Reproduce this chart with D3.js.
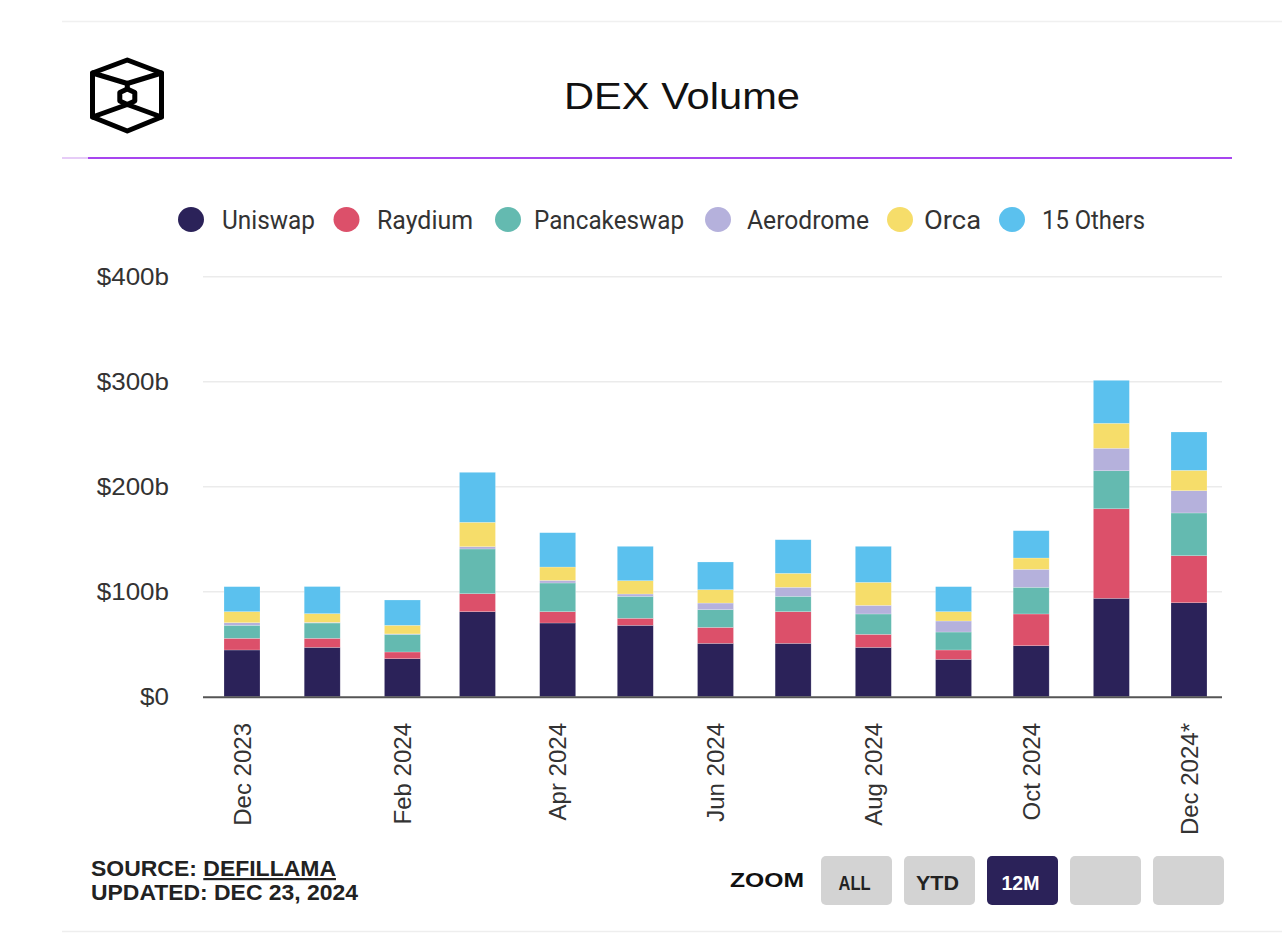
<!DOCTYPE html>
<html><head><meta charset="utf-8">
<script src="https://cdn.jsdelivr.net/npm/d3@7"></script>
<style>
html,body{margin:0;padding:0;background:#fff;}
svg{display:block;}
</style></head>
<body>
<svg id="chart" width="1282" height="948"></svg>
<script>
// ---- data ----
const months = ["2023-12","2024-01","2024-02","2024-03","2024-04","2024-05","2024-06","2024-07","2024-08","2024-09","2024-10","2024-11","2024-12"];
const seriesNames = ["Uniswap","Raydium","Pancakeswap","Aerodrome","Orca","15 Others"];
const uniswap     = [44.5, 47.0, 36.2, 81.0, 70.2, 68.0, 50.8, 50.8, 47.0, 35.6, 48.6, 93.7, 89.5];
const raydium     = [11.1,  8.6,  6.4, 17.1, 10.8,  6.7, 15.2, 30.2, 12.4,  8.9, 30.2, 85.3, 44.8];
const pancakeswap = [12.4, 14.6, 16.8, 42.6, 27.3, 20.9, 16.9, 14.6, 19.4, 17.1, 25.4, 36.2, 40.7];
const aerodrome   = [ 2.5,  0.6,  0.4,  2.2,  2.5,  2.2,  6.3,  8.6,  8.2, 10.5, 17.1, 21.4, 21.2];
const orca        = [10.5,  8.3,  8.2, 23.2, 12.7, 12.7, 12.7, 13.3, 21.9,  8.9, 10.8, 23.8, 19.4];
const others      = [23.8, 25.8, 24.1, 47.6, 32.7, 32.7, 26.4, 32.0, 34.3, 23.8, 26.0, 40.9, 36.5];
const yTicks = [0, 100, 200, 300, 400];
const yTickLabels = ["$0","$100b","$200b","$300b","$400b"];
const xTickMonths = ["2023-12","2024-02","2024-04","2024-06","2024-08","2024-10","2024-12"];
const xTickLabels = ["Dec 2023","Feb 2024","Apr 2024","Jun 2024","Aug 2024","Oct 2024","Dec 2024*"];
const colors = ["#2b2259","#dc506a","#64bab0","#b5b1dc","#f6dd6a","#5bc1ee"];
const zoomButtons = ["ALL","YTD","12M","",""];

// ---- build ----
const parse = d3.timeParse("%Y-%m");
const seriesArrays = [uniswap, raydium, pancakeswap, aerodrome, orca, others];
const rows = months.map((m,i)=>{
  const r = {date: parse(m)};
  seriesNames.forEach((s,j)=> r[s] = seriesArrays[j][i]);
  return r;
});
const stack = d3.stack().keys(seriesNames)(rows);

const svg = d3.select("#chart");
const plotL = 203, plotR = 1222;
const x = d3.scaleTime().domain([parse("2023-12"), parse("2024-12")]).range([242, 1189]);
const y = d3.scaleLinear().domain([0, 400]).range([696.7, 276.7]);
const barW = 36;
const arial = "'Liberation Sans', Arial, Helvetica, sans-serif";

function stretch(sel, k){ sel.each(function(){ const w=this.getComputedTextLength(); d3.select(this).attr("textLength", w*k).attr("lengthAdjust","spacingAndGlyphs"); }); }
function fit(sel, w){ sel.attr("textLength", w).attr("lengthAdjust","spacingAndGlyphs"); }

// top and bottom rules
svg.append("line").attr("x1",62).attr("x2",1282).attr("y1",21.5).attr("y2",21.5).attr("stroke","#f0f0f0").attr("stroke-width",1.5);
svg.append("line").attr("x1",62).attr("x2",1282).attr("y1",931.5).attr("y2",931.5).attr("stroke","#eeeeee").attr("stroke-width",1.5);

// logo
const logo = svg.append("g").attr("fill","none").attr("stroke","#000").attr("stroke-width",5).attr("stroke-linejoin","round").attr("stroke-linecap","round");
logo.append("path").attr("d","M127.3,60 L161.5,73 L161.5,117 L127.3,131 L92.5,117 L92.5,73 Z");
logo.append("path").attr("d","M92.5,73 L127.3,83.5 L161.5,73 M127.3,83.5 L127.3,89");
logo.append("path").attr("d","M127.3,89 L134.8,92.5 L134.8,101 L127.3,104.5 L119.8,101 L119.8,92.5 Z");
logo.append("path").attr("d","M92.5,117 L127.3,104.5 L161.5,117");

// title
fit(svg.append("text").attr("x",564).attr("y",109)
  .attr("font-family",arial).attr("font-size",36).attr("fill","#111").text("DEX Volume"), 236);

// purple rule
svg.append("line").attr("x1",62).attr("x2",88).attr("y1",158).attr("y2",158).attr("stroke","#e6ccf7").attr("stroke-width",2);
svg.append("line").attr("x1",88).attr("x2",1232).attr("y1",158).attr("y2",158).attr("stroke","#a745ef").attr("stroke-width",2.2);

// legend
const legendCx = [191, 346.5, 508, 718, 900, 1012];
const legendTx = [222, 377, 534, 747, 924, 1042];
const legendTw = [93, 96, 150, 122, 57, 103];
const lg = svg.append("g");
seriesNames.forEach((s,i)=>{
  lg.append("ellipse").attr("cx",legendCx[i]).attr("cy",219.5).attr("rx",13).attr("ry",12.5).attr("fill",colors[i]);
  fit(lg.append("text").attr("x",legendTx[i]).attr("y",228.5).attr("font-family","Roboto, sans-serif")
    .attr("font-size",25).attr("fill","#333").text(s), legendTw[i]);
});

// gridlines
svg.append("g").selectAll("line").data(yTicks.slice(1)).join("line")
  .attr("x1",plotL).attr("x2",plotR).attr("y1",d=>y(d)).attr("y2",d=>y(d))
  .attr("stroke","#ebebeb").attr("stroke-width",1.5);

// y labels
const yl = svg.append("g").selectAll("text").data(yTicks).join("text")
  .attr("x",169).attr("y",d=>y(d)+8.5).attr("text-anchor","end")
  .attr("font-family",arial).attr("font-size",24.5).attr("fill","#333")
  .text((d,i)=>yTickLabels[i]);
stretch(yl, 1.06);

// bars
svg.append("g").selectAll("g").data(stack).join("g").attr("fill",(d,i)=>colors[i])
  .selectAll("rect").data(d=>d).join("rect")
  .attr("x",d=>x(d.data.date)-barW/2).attr("width",barW)
  .attr("y",d=>y(d[1])).attr("height",d=>Math.max(0,y(d[0])-y(d[1])))
  .attr("stroke","rgba(255,255,255,0.35)").attr("stroke-width",0.6);

// baseline
svg.append("line").attr("x1",plotL).attr("x2",plotR).attr("y1",y(0)+0.5).attr("y2",y(0)+0.5).attr("stroke","#555").attr("stroke-width",2);

// x labels
svg.append("g").selectAll("text").data(xTickMonths).join("text")
  .attr("transform",d=>`translate(${x(parse(d))+8.5},723) rotate(-90)`)
  .attr("text-anchor","end")
  .attr("font-family",arial).attr("font-size",24).attr("fill","#333")
  .text((d,i)=>xTickLabels[i]);

// footer
const src = svg.append("text").attr("x",91).attr("y",876).attr("font-family",arial).attr("font-weight","bold").attr("font-size",22).attr("fill","#222");
src.append("tspan").text("SOURCE: ");
src.append("tspan").attr("text-decoration","underline").text("DEFILLAMA");
fit(src, 245);
fit(svg.append("text").attr("x",91).attr("y",900).attr("font-family",arial).attr("font-weight","bold").attr("font-size",22).attr("fill","#222").text("UPDATED: DEC 23, 2024"), 267);
fit(svg.append("text").attr("x",730).attr("y",887).attr("font-family",arial).attr("font-weight","bold").attr("font-size",21).attr("fill","#111").text("ZOOM"), 74);
const bx = [821, 904, 987, 1070, 1153];
const bw = [32, 43, 38, 0, 0];
zoomButtons.forEach((b,i)=>{
  const sel = b==="12M";
  svg.append("rect").attr("x",bx[i]).attr("y",856).attr("width",71).attr("height",49).attr("rx",5)
    .attr("fill", sel ? "#2b2259" : "#d3d3d3");
  if(b) fit(svg.append("text").attr("x",bx[i]+33.5).attr("y",890).attr("text-anchor","middle")
    .attr("font-family",arial).attr("font-weight","bold").attr("font-size",21).attr("fill", sel?"#fff":"#222").text(b), bw[i]);
});
</script>
</body></html>
